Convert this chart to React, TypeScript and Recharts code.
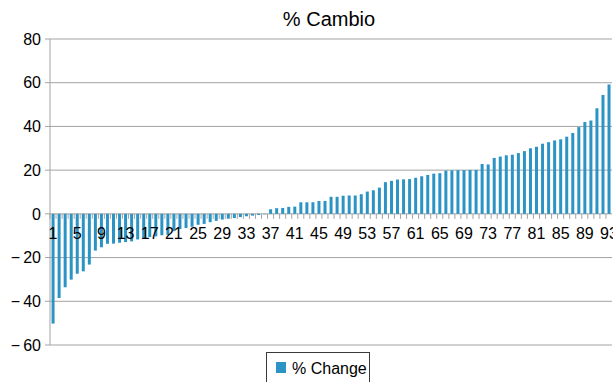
import React from "react";
import { BarChart, Bar, XAxis, YAxis, CartesianGrid, Legend } from "recharts";

// Percentage change per item, sorted from largest drop to largest gain
const changes: number[] = [
  -50.2, -38.5, -33.6, -30.1, -27.4, -26.3, -23.2, -16.8, -15.3, -13.7,
  -13.6, -13.2, -12.9, -12.6, -11.7, -11.0, -10.6, -10.3, -9.8, -9.6,
  -7.9, -6.9, -6.5, -5.9, -5.0, -4.6, -3.8, -3.2, -2.6, -2.2,
  -1.9, -1.5, -1.1, -0.8, -0.5, -0.2, 2.1, 2.6, 2.7, 3.2,
  3.3, 5.3, 5.3, 5.3, 5.9, 5.9, 7.8, 7.8, 8.3, 8.4,
  8.4, 9.0, 10.2, 10.8, 12.0, 14.5, 15.1, 15.7, 15.8, 15.9,
  16.5, 17.2, 17.8, 18.4, 18.6, 19.8, 19.9, 20.0, 20.0, 20.1,
  20.1, 22.8, 22.6, 25.6, 26.2, 26.8, 27.0, 27.8, 28.7, 30.0,
  30.7, 32.1, 32.8, 33.6, 34.1, 35.3, 37.0, 39.7, 42.0, 42.7,
  48.3, 54.4, 59.2,
];

// Item numbers along the category axis
const categories: string[] = changes.map((_, i) => String(i + 1));

// Category labels that are printed (every fourth item)
const labeledCategories: string[] = [
  "1", "5", "9", "13", "17", "21", "25", "29", "33", "37", "41", "45",
  "49", "53", "57", "61", "65", "69", "73", "77", "81", "85", "89", "93",
];

const yTicks: number[] = [-60, -40, -20, 0, 20, 40, 60, 80];

const data = categories.map((cat, i) => ({ cat, change: changes[i] }));

const WIDTH = 613;
const HEIGHT = 382;
const X_AXIS_H = 1;
const MARGIN = { top: 39, right: 1, bottom: 36, left: 0 };
const Y_AXIS_W = 50;
const Y_MIN = -60;
const Y_MAX = 80;
const PLOT_H = HEIGHT - MARGIN.top - MARGIN.bottom - X_AXIS_H;
const PLOT_W = WIDTH - MARGIN.left - MARGIN.right - Y_AXIS_W;
// pixel row of the value 0, where the category axis sits
const ZERO_Y = MARGIN.top + (Y_MAX / (Y_MAX - Y_MIN)) * PLOT_H;
const BAND = PLOT_W / categories.length;

const FONT = '"Liberation Sans", Arial, Helvetica, sans-serif';
const BAR_COLOR = "#2C93C5";
const GRID = "#A3A3A3";

const labeledSet = new Set(labeledCategories);

const CategoryTick = (props: any) => {
  const { x, payload } = props;
  const value = String(payload?.value);
  const left = x - BAND / 2;
  return (
    <g>
      <line x1={left} y1={ZERO_Y} x2={left} y2={ZERO_Y + 5} stroke={GRID} strokeWidth={1} />
      {labeledSet.has(value) && (
        <text
          x={x}
          y={ZERO_Y + 25}
          textAnchor="middle"
          fontFamily={FONT}
          fontSize={16}
          fill="#000"
        >
          {value}
        </text>
      )}
    </g>
  );
};

const formatY = (v: number) => (v < 0 ? "\u2212\u2009" + Math.abs(v) : String(v));

const LegendBox = () => (
  <div
    style={{
      position: "relative",
      width: 104,
      height: 36,
      boxSizing: "border-box",
      border: "1px solid #3a3a3a",
      background: "#fff",
      fontFamily: FONT,
      fontSize: 16,
      color: "#000",
    }}
  >
    <span
      style={{
        position: "absolute",
        left: 9,
        top: 9,
        width: 10,
        height: 11,
        background: BAR_COLOR,
      }}
    />
    <span style={{ position: "absolute", left: 25, top: 7, whiteSpace: "nowrap", lineHeight: "18px" }}>
      % Change
    </span>
  </div>
);

export default function App() {
  return (
    <div
      style={{
        position: "absolute",
        left: 0,
        top: 0,
        width: WIDTH,
        height: HEIGHT,
        overflow: "hidden",
        background: "#fff",
      }}
    >
      <div
        style={{
          position: "absolute",
          left: 0,
          width: 658,
          top: 6,
          textAlign: "center",
          fontFamily: FONT,
          fontSize: 20,
          lineHeight: "26px",
          color: "#000",
          zIndex: 2,
        }}
      >
        % Cambio
      </div>
      <BarChart
        width={WIDTH}
        height={HEIGHT}
        data={data}
        margin={MARGIN}
        barCategoryGap="26%"
      >
        <CartesianGrid horizontal vertical={false} stroke={GRID} strokeWidth={1} />
        <YAxis
          width={Y_AXIS_W}
          domain={[Y_MIN, Y_MAX]}
          ticks={yTicks}
          interval={0}
          tickFormatter={formatY}
          tickSize={5}
          tickMargin={4}
          axisLine={{ stroke: GRID }}
          tickLine={{ stroke: GRID }}
          tick={{ fill: "#000", fontSize: 16, fontFamily: FONT }}
        />
        <Legend
          layout="horizontal"
          verticalAlign="middle"
          content={<LegendBox />}
          wrapperStyle={{ position: "absolute", left: 266, top: 352, width: 104 }}
        />
        <Bar
          dataKey="change"
          name="% Change"
          fill={BAR_COLOR}
          isAnimationActive={false}
        />
        <XAxis
          dataKey="cat"
          height={X_AXIS_H}
          interval={0}
          axisLine={false}
          tickLine={false}
          tick={<CategoryTick />}
        />
      </BarChart>
    </div>
  );
}
